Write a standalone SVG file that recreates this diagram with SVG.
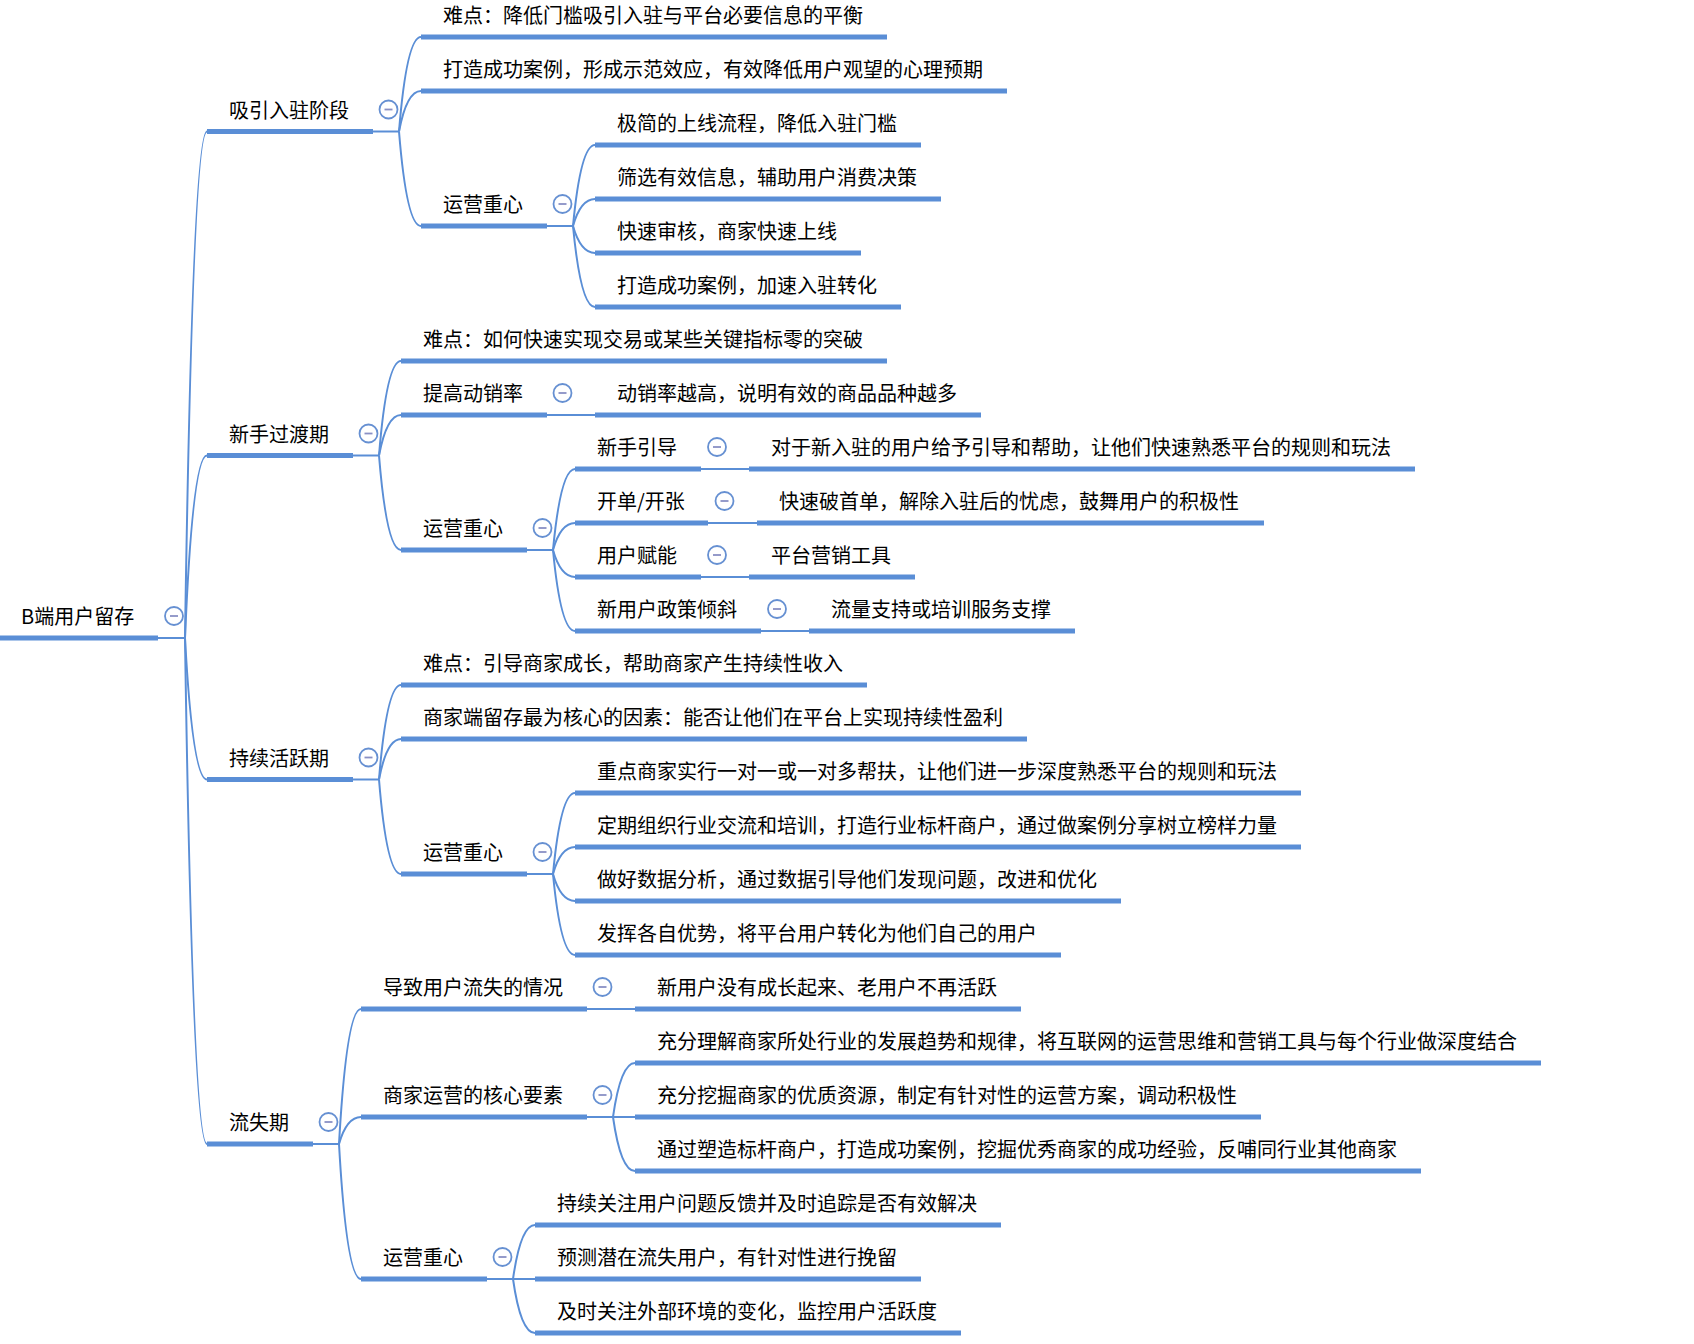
<svg xmlns="http://www.w3.org/2000/svg" width="1694" height="1344" viewBox="0 0 1694 1344">
<style>
.u{stroke:#5a8ed6;stroke-width:5;fill:none}
.c{stroke:#5a8ed6;stroke-width:2;fill:none}
.t{font-family:"Noto Sans CJK SC","Noto Sans",sans-serif;font-size:20px;fill:#000}
.b circle{fill:#fff;stroke:#6690d2;stroke-width:1.8}
.b line{stroke:#8a90c4;stroke-width:1.8}
</style>
<defs>
<g id="btn" class="b"><circle cx="0" cy="0" r="9"/><line x1="-4" y1="0" x2="4" y2="0"/></g>
</defs>
<rect width="1694" height="1344" fill="#fff"/>
<g id="connectors">
<path class="c" d="M158 638 H185"/>
<path class="c" d="M185 638 Q192.7 131.5 207 131.5"/>
<path class="c" d="M185 638 Q192.7 455.5 207 455.5"/>
<path class="c" d="M185 638 Q192.7 779.5 207 779.5"/>
<path class="c" d="M185 638 Q192.7 1144 207 1144"/>
<path class="c" d="M373 131.5 H399"/>
<path class="c" d="M399 131.5 Q406.7 37 421 37"/>
<path class="c" d="M399 131.5 Q406.7 91 421 91"/>
<path class="c" d="M399 131.5 Q406.7 226 421 226"/>
<path class="c" d="M547 226 H573"/>
<path class="c" d="M573 226 Q580.7 145 595 145"/>
<path class="c" d="M573 226 Q580.7 199 595 199"/>
<path class="c" d="M573 226 Q580.7 253 595 253"/>
<path class="c" d="M573 226 Q580.7 307 595 307"/>
<path class="c" d="M353 455.5 H379"/>
<path class="c" d="M379 455.5 Q386.7 361 401 361"/>
<path class="c" d="M379 455.5 Q386.7 415 401 415"/>
<path class="c" d="M379 455.5 Q386.7 550 401 550"/>
<path class="c" d="M547 415 H595"/>
<path class="c" d="M527 550 H553"/>
<path class="c" d="M553 550 Q560.7 469 575 469"/>
<path class="c" d="M553 550 Q560.7 523 575 523"/>
<path class="c" d="M553 550 Q560.7 577 575 577"/>
<path class="c" d="M553 550 Q560.7 631 575 631"/>
<path class="c" d="M701 469 H749"/>
<path class="c" d="M708 523 H757"/>
<path class="c" d="M701 577 H749"/>
<path class="c" d="M761 631 H809"/>
<path class="c" d="M353 779.5 H379"/>
<path class="c" d="M379 779.5 Q386.7 685 401 685"/>
<path class="c" d="M379 779.5 Q386.7 739 401 739"/>
<path class="c" d="M379 779.5 Q386.7 874 401 874"/>
<path class="c" d="M527 874 H553"/>
<path class="c" d="M553 874 Q560.7 793 575 793"/>
<path class="c" d="M553 874 Q560.7 847 575 847"/>
<path class="c" d="M553 874 Q560.7 901 575 901"/>
<path class="c" d="M553 874 Q560.7 955 575 955"/>
<path class="c" d="M313 1144 H339"/>
<path class="c" d="M339 1144 Q346.7 1009 361 1009"/>
<path class="c" d="M339 1144 Q346.7 1117 361 1117"/>
<path class="c" d="M339 1144 Q346.7 1279 361 1279"/>
<path class="c" d="M587 1009 H635"/>
<path class="c" d="M587 1117 H613"/>
<path class="c" d="M613 1117 Q620.7 1063 635 1063"/>
<path class="c" d="M613 1117 H635"/>
<path class="c" d="M613 1117 Q620.7 1171 635 1171"/>
<path class="c" d="M487 1279 H513"/>
<path class="c" d="M513 1279 Q520.7 1225 535 1225"/>
<path class="c" d="M513 1279 H535"/>
<path class="c" d="M513 1279 Q520.7 1333 535 1333"/>
</g>

<g id="root"><line class="u" x1="0" y1="638" x2="158" y2="638"/><text class="t" x="21" y="624">B端用户留存</text><use href="#btn" x="174" y="616"/></g>

<g id="n1"><line class="u" x1="207" y1="131.5" x2="373" y2="131.5"/><text class="t" x="229" y="117.5">吸引入驻阶段</text><use href="#btn" x="388.5" y="109.5"/></g>
<g id="n1a"><line class="u" x1="421" y1="37" x2="887" y2="37"/><text class="t" x="443" y="23">难点：降低门槛吸引入驻与平台必要信息的平衡</text></g>
<g id="n1b"><line class="u" x1="421" y1="91" x2="1007" y2="91"/><text class="t" x="443" y="77">打造成功案例，形成示范效应，有效降低用户观望的心理预期</text></g>
<g id="n1c"><line class="u" x1="421" y1="226" x2="547" y2="226"/><text class="t" x="443" y="212">运营重心</text><use href="#btn" x="562.5" y="204"/></g>
<g id="n1c1"><line class="u" x1="595" y1="145" x2="921" y2="145"/><text class="t" x="617" y="131">极简的上线流程，降低入驻门槛</text></g>
<g id="n1c2"><line class="u" x1="595" y1="199" x2="941" y2="199"/><text class="t" x="617" y="185">筛选有效信息，辅助用户消费决策</text></g>
<g id="n1c3"><line class="u" x1="595" y1="253" x2="861" y2="253"/><text class="t" x="617" y="239">快速审核，商家快速上线</text></g>
<g id="n1c4"><line class="u" x1="595" y1="307" x2="901" y2="307"/><text class="t" x="617" y="293">打造成功案例，加速入驻转化</text></g>

<g id="n2"><line class="u" x1="207" y1="455.5" x2="353" y2="455.5"/><text class="t" x="229" y="441.5">新手过渡期</text><use href="#btn" x="368.5" y="433.5"/></g>
<g id="n2a"><line class="u" x1="401" y1="361" x2="887" y2="361"/><text class="t" x="423" y="347">难点：如何快速实现交易或某些关键指标零的突破</text></g>
<g id="n2b"><line class="u" x1="401" y1="415" x2="547" y2="415"/><text class="t" x="423" y="401">提高动销率</text><use href="#btn" x="562.5" y="393"/></g>
<g id="n2b1"><line class="u" x1="595" y1="415" x2="981" y2="415"/><text class="t" x="617" y="401">动销率越高，说明有效的商品品种越多</text></g>
<g id="n2c"><line class="u" x1="401" y1="550" x2="527" y2="550"/><text class="t" x="423" y="536">运营重心</text><use href="#btn" x="542.5" y="528"/></g>
<g id="n2c1"><line class="u" x1="575" y1="469" x2="701" y2="469"/><text class="t" x="597" y="455">新手引导</text><use href="#btn" x="717" y="447"/></g>
<g id="n2c1a"><line class="u" x1="749" y1="469" x2="1415" y2="469"/><text class="t" x="771" y="455">对于新入驻的用户给予引导和帮助，让他们快速熟悉平台的规则和玩法</text></g>
<g id="n2c2"><line class="u" x1="575" y1="523" x2="708" y2="523"/><text class="t" x="597" y="509">开单/开张</text><use href="#btn" x="724.5" y="501"/></g>
<g id="n2c2a"><line class="u" x1="757" y1="523" x2="1264" y2="523"/><text class="t" x="779" y="509">快速破首单，解除入驻后的忧虑，鼓舞用户的积极性</text></g>
<g id="n2c3"><line class="u" x1="575" y1="577" x2="701" y2="577"/><text class="t" x="597" y="563">用户赋能</text><use href="#btn" x="717" y="555"/></g>
<g id="n2c3a"><line class="u" x1="749" y1="577" x2="915" y2="577"/><text class="t" x="771" y="563">平台营销工具</text></g>
<g id="n2c4"><line class="u" x1="575" y1="631" x2="761" y2="631"/><text class="t" x="597" y="617">新用户政策倾斜</text><use href="#btn" x="777" y="609"/></g>
<g id="n2c4a"><line class="u" x1="809" y1="631" x2="1075" y2="631"/><text class="t" x="831" y="617">流量支持或培训服务支撑</text></g>

<g id="n3"><line class="u" x1="207" y1="779.5" x2="353" y2="779.5"/><text class="t" x="229" y="765.5">持续活跃期</text><use href="#btn" x="368.5" y="757.5"/></g>
<g id="n3a"><line class="u" x1="401" y1="685" x2="867" y2="685"/><text class="t" x="423" y="671">难点：引导商家成长，帮助商家产生持续性收入</text></g>
<g id="n3b"><line class="u" x1="401" y1="739" x2="1027" y2="739"/><text class="t" x="423" y="725">商家端留存最为核心的因素：能否让他们在平台上实现持续性盈利</text></g>
<g id="n3c"><line class="u" x1="401" y1="874" x2="527" y2="874"/><text class="t" x="423" y="860">运营重心</text><use href="#btn" x="542.5" y="852"/></g>
<g id="n3c1"><line class="u" x1="575" y1="793" x2="1301" y2="793"/><text class="t" x="597" y="779">重点商家实行一对一或一对多帮扶，让他们进一步深度熟悉平台的规则和玩法</text></g>
<g id="n3c2"><line class="u" x1="575" y1="847" x2="1301" y2="847"/><text class="t" x="597" y="833">定期组织行业交流和培训，打造行业标杆商户，通过做案例分享树立榜样力量</text></g>
<g id="n3c3"><line class="u" x1="575" y1="901" x2="1121" y2="901"/><text class="t" x="597" y="887">做好数据分析，通过数据引导他们发现问题，改进和优化</text></g>
<g id="n3c4"><line class="u" x1="575" y1="955" x2="1061" y2="955"/><text class="t" x="597" y="941">发挥各自优势，将平台用户转化为他们自己的用户</text></g>

<g id="n4"><line class="u" x1="207" y1="1144" x2="313" y2="1144"/><text class="t" x="229" y="1130">流失期</text><use href="#btn" x="328.5" y="1122"/></g>
<g id="n4a"><line class="u" x1="361" y1="1009" x2="587" y2="1009"/><text class="t" x="383" y="995">导致用户流失的情况</text><use href="#btn" x="602.5" y="987"/></g>
<g id="n4a1"><line class="u" x1="635" y1="1009" x2="1021" y2="1009"/><text class="t" x="657" y="995">新用户没有成长起来、老用户不再活跃</text></g>
<g id="n4b"><line class="u" x1="361" y1="1117" x2="587" y2="1117"/><text class="t" x="383" y="1103">商家运营的核心要素</text><use href="#btn" x="602.5" y="1095"/></g>
<g id="n4b1"><line class="u" x1="635" y1="1063" x2="1541" y2="1063"/><text class="t" x="657" y="1049">充分理解商家所处行业的发展趋势和规律，将互联网的运营思维和营销工具与每个行业做深度结合</text></g>
<g id="n4b2"><line class="u" x1="635" y1="1117" x2="1261" y2="1117"/><text class="t" x="657" y="1103">充分挖掘商家的优质资源，制定有针对性的运营方案，调动积极性</text></g>
<g id="n4b3"><line class="u" x1="635" y1="1171" x2="1421" y2="1171"/><text class="t" x="657" y="1157">通过塑造标杆商户，打造成功案例，挖掘优秀商家的成功经验，反哺同行业其他商家</text></g>
<g id="n4c"><line class="u" x1="361" y1="1279" x2="487" y2="1279"/><text class="t" x="383" y="1265">运营重心</text><use href="#btn" x="502.5" y="1257"/></g>
<g id="n4c1"><line class="u" x1="535" y1="1225" x2="1001" y2="1225"/><text class="t" x="557" y="1211">持续关注用户问题反馈并及时追踪是否有效解决</text></g>
<g id="n4c2"><line class="u" x1="535" y1="1279" x2="921" y2="1279"/><text class="t" x="557" y="1265">预测潜在流失用户，有针对性进行挽留</text></g>
<g id="n4c3"><line class="u" x1="535" y1="1333" x2="961" y2="1333"/><text class="t" x="557" y="1319">及时关注外部环境的变化，监控用户活跃度</text></g>
</svg>
